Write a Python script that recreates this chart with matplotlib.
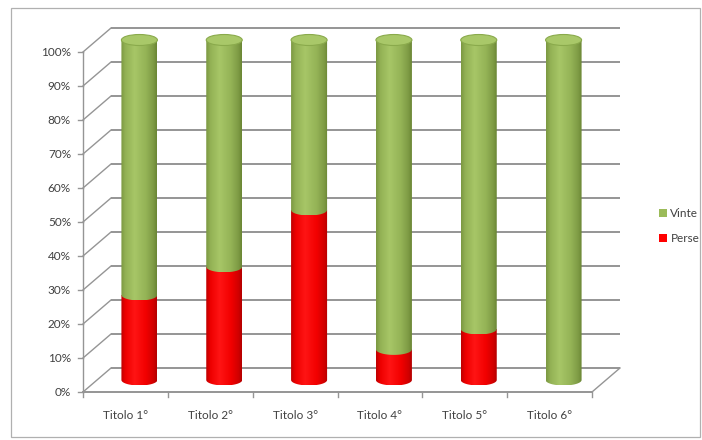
import numpy as np
import matplotlib
matplotlib.use("Agg")
import matplotlib.pyplot as plt
from matplotlib.patches import Ellipse, PathPatch, Rectangle, Patch
from matplotlib.path import Path
from matplotlib.colors import LinearSegmentedColormap

# ---- data ----
categories = ["Titolo 1°", "Titolo 2°", "Titolo 3°", "Titolo 4°", "Titolo 5°", "Titolo 6°"]
perse = [25, 33.3, 50, 9, 15, 0]
vinte = [75, 66.7, 50, 91, 85, 100]
y_ticks = [0, 10, 20, 30, 40, 50, 60, 70, 80, 90, 100]
series_names = ["Vinte", "Perse"]

# ---- style ----
W, H = 702, 440
FRONT_L, FRONT_R = 83, 592          # px, front plane left/right
FRONT_B, FRONT_T = 48, 388          # px from bottom, 0% / 100%
DEPTH_PX = (28, 24)                 # oblique depth offset in px
CYL_W_PX, CYL_H_PX = 36, 11         # cylinder diameter / ellipse height in px
GRID = "#959595"
TEXT = "#404040"
GREEN, RED = "#9bbb59", "#ff0000"
plt.rcParams["font.family"] = ["Lato", "DejaVu Sans"]

fig = plt.figure(figsize=(W / 100, H / 100), dpi=100)
ax = fig.add_axes([0, 0, 1, 1])
ax.set_autoscale_on(False)
ax.axis("off")

# data units per pixel
ux = 6 / (FRONT_R - FRONT_L)
uy = 100 / (FRONT_T - FRONT_B)
ax.set_xlim(-0.5 - FRONT_L * ux, 5.5 + (W - FRONT_R) * ux)
ax.set_ylim(-FRONT_B * uy, 100 + (H - FRONT_T) * uy)

DX, DY = DEPTH_PX[0] * ux, DEPTH_PX[1] * uy
CW, CH = CYL_W_PX * ux, CYL_H_PX * uy
x0, x1 = -0.5, len(categories) - 0.5

# outer chart border
fig.add_artist(Rectangle((11 / W, 3 / H), 689 / W, 429 / H, transform=fig.transFigure,
                         fill=False, edgecolor="#b0b0b0", linewidth=0.9))

# back wall gridlines and left wall diagonals
for t in y_ticks:
    ax.plot([x0 + DX, x1 + DX], [t + DY, t + DY], color=GRID, lw=1.4, solid_capstyle="butt")
    ax.plot([x0, x0 + DX], [t, t + DY], color=GRID, lw=1.0)
    ax.plot([x0 - 5 * ux, x0], [t, t], color=GRID, lw=1.0)
    ax.text(x0 - 12 * ux, t, f"{t}%", ha="right", va="center", fontsize=8.5, color=TEXT)

# front left axis, floor front edge and right floor edge
ax.plot([x0, x0], [0, 100], color=GRID, lw=1.0)
ax.plot([x0, x1], [0, 0], color=GRID, lw=1.4)
ax.plot([x1, x1 + DX], [0, DY], color=GRID, lw=1.0)
for k in range(len(categories) + 1):
    ax.plot([x0 + k, x0 + k], [0, -5 * uy], color=GRID, lw=1.0)

for i, name in enumerate(categories):
    ax.text(i, -23 * uy, name, ha="center", va="center", fontsize=8.5, color=TEXT)

green_cmap = LinearSegmentedColormap.from_list(
    "g", [(0, "#7c9942"), (0.12, "#93b255"), (0.38, "#a7c667"), (0.7, "#94b356"),
          (0.9, "#7f9c45"), (1, "#6b8735")])
red_cmap = LinearSegmentedColormap.from_list(
    "r", [(0, "#c00000"), (0.12, "#ee0000"), (0.38, "#ff1414"), (0.7, "#f20000"),
          (0.9, "#d20000"), (1, "#b50000")])
grad = np.linspace(0, 1, 64).reshape(1, -1)


def cylinder(cx, ya, yb, cmap, zorder):
    """Cylinder body from ya to yb (percent) at mid depth with elliptic bottom."""
    ya_, yb_ = ya + DY / 2, yb + DY / 2
    t = np.linspace(0, np.pi, 40)
    arc = np.column_stack([cx - CW / 2 * np.cos(t), ya_ - CH / 2 * np.sin(t)])
    verts = np.vstack([[cx - CW / 2, yb_], [cx - CW / 2, ya_], arc[1:-1],
                       [cx + CW / 2, ya_], [cx + CW / 2, yb_], [cx - CW / 2, yb_]])
    path = Path(verts, closed=True)
    clip = PathPatch(path, transform=ax.transData)
    im = ax.imshow(grad, cmap=cmap, aspect="auto", interpolation="bilinear",
                   extent=[cx - CW / 2, cx + CW / 2, ya_ - CH / 2, yb_], zorder=zorder)
    im.set_clip_path(clip)


for i in range(len(categories)):
    cx = i + DX / 2
    if perse[i] > 0:
        cylinder(cx, 0, perse[i], red_cmap, 3)
    cylinder(cx, perse[i], perse[i] + vinte[i], green_cmap, 4)
    top = perse[i] + vinte[i] + DY / 2
    ax.add_patch(Ellipse((cx, top), CW, CH, facecolor="#a9c869",
                         edgecolor="#8aaa4c", lw=0.8, zorder=5))

handles = [Patch(facecolor=GREEN, edgecolor="none"), Patch(facecolor=RED, edgecolor="none")]
fig.legend(handles, series_names, loc="center left", bbox_to_anchor=(648 / W, 1 - 226 / H),
           frameon=False, fontsize=8.5, handlelength=0.7, handleheight=0.7,
           handletextpad=0.3, labelspacing=1.2, labelcolor=TEXT)

fig.savefig("out.png", dpi=100)
